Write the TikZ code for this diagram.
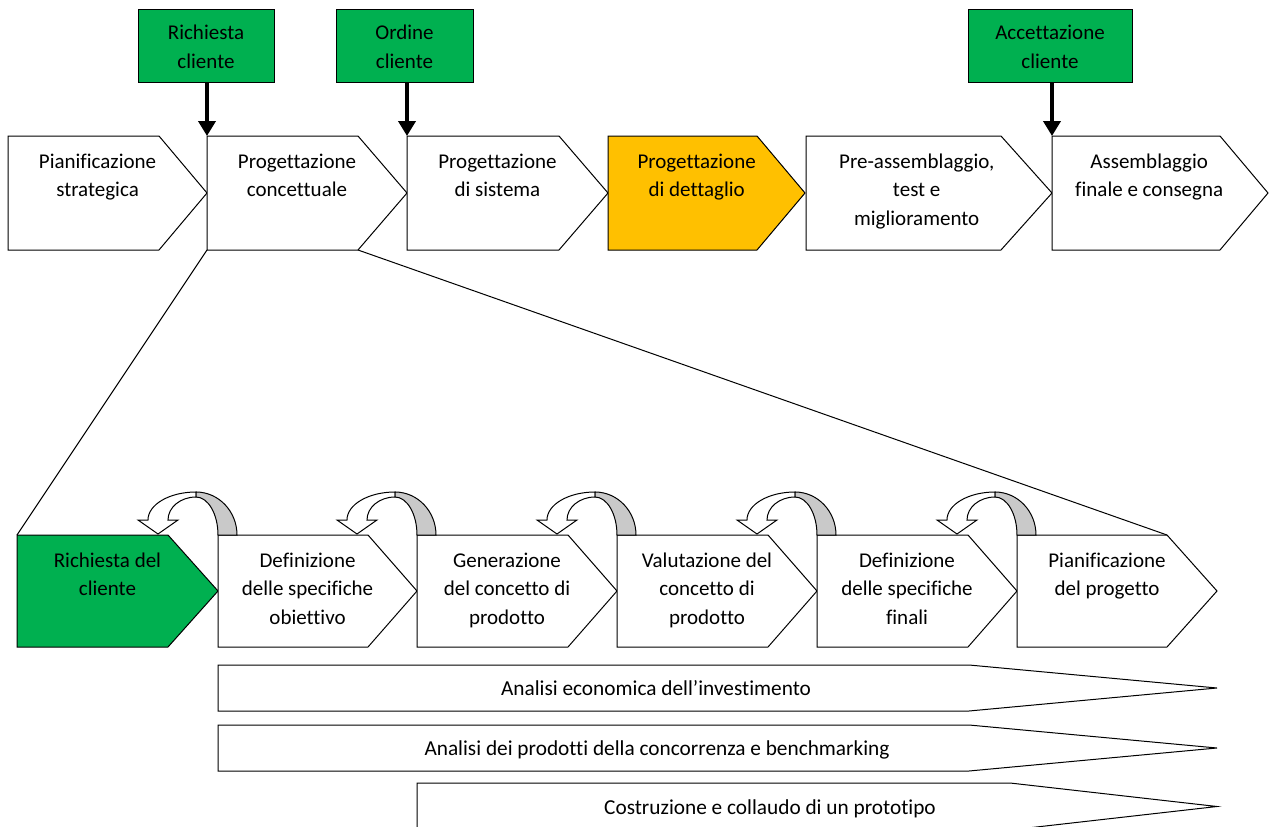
\documentclass[tikz,border=0pt]{standalone}
\usepackage{fontspec}
\setmainfont{Carlito}[Ligatures=NoCommon]
\usetikzlibrary{arrows.meta}

\definecolor{eventgreen}{HTML}{00B050}
\definecolor{phaseorange}{HTML}{FFC000}
\definecolor{foldgrey}{HTML}{C9C9C9}

% fixed height for the first line of a label, so its baseline sits at a known place
\newcommand\firstline{\rule{0pt}{17.5pt}}

% pentagon phase box: name, left, top, width, height, point depth, fill, text
\newcommand\phase[8]{%
  \draw[outline,fill=#7] (#2,#3) coordinate (#1-nw)
    -- ({#2+#4-#6},#3) coordinate (#1-ne)
    -- ({#2+#4},{#3+#5/2}) coordinate (#1-tip)
    -- ({#2+#4-#6},{#3+#5}) coordinate (#1-se)
    -- (#2,{#3+#5}) coordinate (#1-sw) -- cycle;
  \node[phasetext] (#1) at ({#2+0.45*#4},{#3+14.5}) {\firstline#8};}

% long tapered activity bar: name, left, top, bottom, taper start, tip x, text x, text
\newcommand\track[8]{%
  \draw[outline,fill=white] (#2,#3) coordinate (#1-nw)
    -- (#5,#3) -- (#6,{(#3+#4)/2}) coordinate (#1-tip)
    -- (#5,#4) -- (#2,#4) -- cycle;
  \node[tracktext] (#1) at (#7,{(#3+#4)/2+7.5}) {#8};}

\begin{document}
\begin{tikzpicture}[x=1pt,y=-1pt,
  outline/.style={draw=black,line width=1pt,line join=miter},
  phasetext/.style={anchor=north,inner sep=0pt,align=center,
    font=\fontsize{21}{28.5}\selectfont},
  tracktext/.style={anchor=base,inner sep=0pt,
    font=\fontsize{21.3}{24}\selectfont},
  event/.style={draw=black,line width=1pt,fill=eventgreen,minimum height=73pt,
    inner sep=0pt,align=center,font=\fontsize{21}{28.5}\selectfont},
  evarrow/.style={line width=4.5pt,-{Triangle[width=17pt,length=15pt]}}]

\useasboundingbox (0,0) rectangle (1270,827);
\clip (0,0) rectangle (1270,827);
\fill[white] (0,0) rectangle (1270,827);

% main process
\phase{ps}{8}{136}{199}{114}{48}{white}{Pianificazione\\strategica}
\phase{pc}{207}{136}{200}{114}{49}{white}{Progettazione\\concettuale}
\phase{psi}{407}{136}{201}{114}{49}{white}{Progettazione\\di sistema}
\phase{pd}{608}{136}{197}{114}{48}{phaseorange}{Progettazione\\di dettaglio}
\phase{pa}{806}{136}{246}{114}{51}{white}{Pre-assemblaggio,\\test e\\miglioramento}
\phase{af}{1052}{136}{216}{114}{48}{white}{Assemblaggio\\finale e consegna}

% customer events
\node[event,minimum width=136pt] (e1) at (206,45.5) {\firstline Richiesta\\cliente};
\node[event,minimum width=137pt] (e2) at (404.5,45.5) {\firstline Ordine\\cliente};
\node[event,minimum width=164pt] (e3) at (1050,45.5) {\firstline Accettazione\\cliente};
\draw[evarrow] (e1.south -| pc-nw) -- (pc-nw);
\draw[evarrow] (e2.south -| psi-nw) -- (psi-nw);
\draw[evarrow] (e3.south -| af-nw) -- (af-nw);

% detail of the conceptual design phase
\phase{rc}{17}{535}{201}{112}{50}{eventgreen}{Richiesta del\\cliente}
\phase{ds}{218}{535}{199}{112}{49}{white}{Definizione\\delle specifiche\\obiettivo}
\phase{gc}{417}{535}{200}{112}{49}{white}{Generazione\\del concetto di\\prodotto}
\phase{vc}{617}{535}{200}{112}{49}{white}{Valutazione del\\concetto di\\prodotto}
\phase{df}{817}{535}{200}{112}{49}{white}{Definizione\\delle specifiche\\finali}
\phase{pp}{1017}{535}{200}{112}{50}{white}{Pianificazione\\del progetto}

\draw[outline] (pc-sw) -- (rc-nw);
\draw[outline] (pc-se) -- (pp-ne);

% feedback loops back to the previous step
\foreach \L in {218,417,617,817,1017}{
  \draw[outline,fill=white]
    ({\L-22},492) .. controls ({\L-48.5},492) and ({\L-70},504.5) .. ({\L-70},520)
    -- ({\L-80},520) -- ({\L-60},534) -- ({\L-40},520) -- ({\L-50},520)
    .. controls ({\L-50},507.3) and ({\L-37.5},497) .. ({\L-22},497) -- cycle;
  \draw[outline,fill=foldgrey]
    ({\L+19},535) .. controls ({\L+19},511.3) and ({\L+0.6},492) .. ({\L-22},492)
    -- ({\L-22},497)
    .. controls ({\L-9.9},497) and (\L,514) .. (\L,535) -- cycle;
}

% parallel activities
\track{ae}{218}{665}{711}{969}{1217}{656}{Analisi economica dell’investimento}
\track{ac}{218}{725}{771}{969}{1217}{657}{Analisi dei prodotti della concorrenza e benchmarking}
\track{cp}{417}{783}{830}{1010}{1217}{770}{Costruzione e collaudo di un prototipo}

\end{tikzpicture}
\end{document}
